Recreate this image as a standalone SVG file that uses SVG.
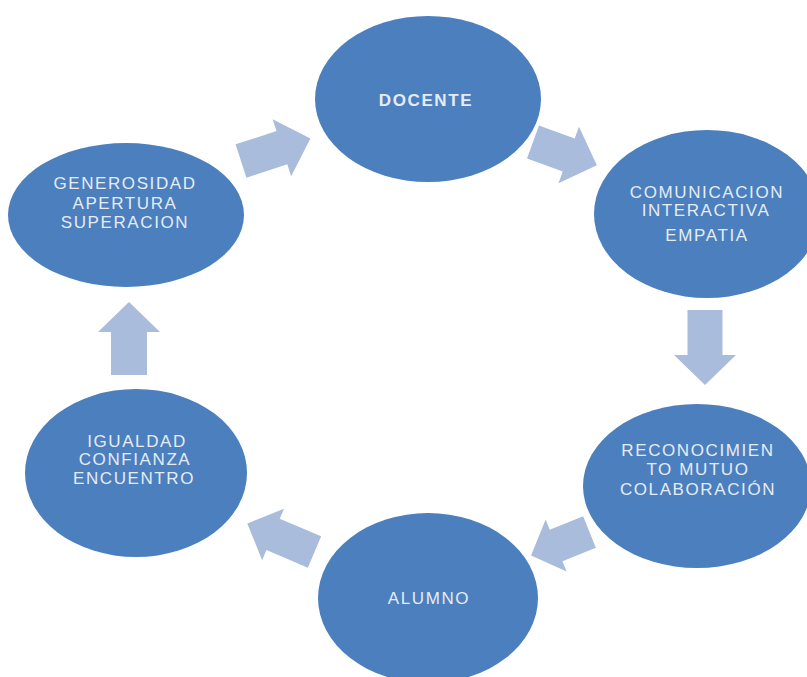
<svg xmlns="http://www.w3.org/2000/svg" width="807" height="677" viewBox="0 0 807 677">
<style>
.node{fill:#4B7FBE;}
.arr{fill:#A9BCDB;}
.t{font-family:"Liberation Sans",Arial,sans-serif;font-size:17px;fill:#E6ECF5;text-anchor:middle;letter-spacing:1.6px;}
.b{font-weight:bold;letter-spacing:1.6px;}
</style>
<rect width="807" height="677" fill="#FFFFFF"/>
<g id="connectors">
<path class="arr" transform="translate(241,161) rotate(-18)" d="M0,-17.5 H43 V-30 L73,0 L43,30 V17.5 H0 Z"/>
<path class="arr" transform="translate(533,142) rotate(20)" d="M0,-17.5 H38 V-30 L68,0 L38,30 V17.5 H0 Z"/>
<path class="arr" transform="translate(705,310) rotate(90)" d="M0,-17.5 H45 V-31 L75,0 L45,31 V17.5 H0 Z"/>
<path class="arr" transform="translate(589.5,532) rotate(158)" d="M0,-17 H36 V-28 L63,0 L36,28 V17 H0 Z"/>
<path class="arr" transform="translate(314.5,552) rotate(203)" d="M0,-17 H45 V-28 L73,0 L45,28 V17 H0 Z"/>
<path class="arr" transform="translate(129,375) rotate(-90)" d="M0,-18 H43 V-31 L73,0 L43,31 V18 H0 Z"/>
</g>
<g id="docente">
<ellipse class="node" cx="428" cy="99" rx="113" ry="83"/>
<text class="t b" x="426" y="106">DOCENTE</text>
</g>
<g id="comunicacion">
<ellipse class="node" cx="707" cy="214" rx="113" ry="84"/>
<text class="t" x="707" y="198">COMUNICACION</text>
<text class="t" x="706" y="216">INTERACTIVA</text>
<text class="t" x="707" y="241">EMPATIA</text>
</g>
<g id="reconocimiento">
<ellipse class="node" cx="697" cy="486" rx="114" ry="82"/>
<text class="t" x="698" y="456">RECONOCIMIEN</text>
<text class="t" x="698" y="475">TO MUTUO</text>
<text class="t" x="698" y="495">COLABORACIÓN</text>
</g>
<g id="alumno">
<ellipse class="node" cx="428" cy="598" rx="110" ry="85"/>
<text class="t" x="429" y="604">ALUMNO</text>
</g>
<g id="igualdad">
<ellipse class="node" cx="136" cy="473" rx="111" ry="84"/>
<text class="t" x="137" y="447">IGUALDAD</text>
<text class="t" x="135" y="465">CONFIANZA</text>
<text class="t" x="134" y="484">ENCUENTRO</text>
</g>
<g id="generosidad">
<ellipse class="node" cx="126" cy="215" rx="118" ry="72"/>
<text class="t" x="125" y="189">GENEROSIDAD</text>
<text class="t" x="125" y="209">APERTURA</text>
<text class="t" x="125" y="228">SUPERACION</text>
</g>
</svg>
